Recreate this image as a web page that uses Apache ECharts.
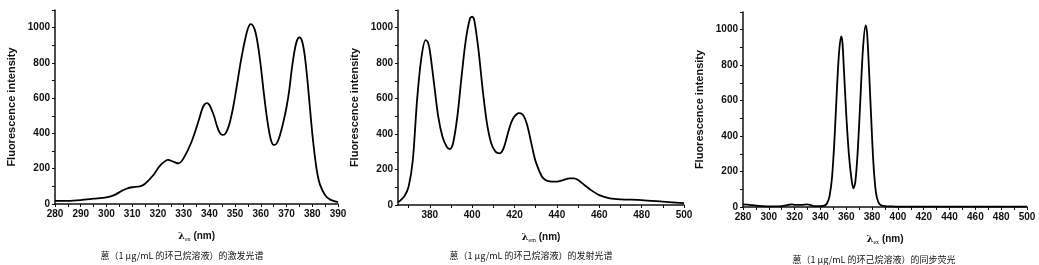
<!DOCTYPE html>
<html>
<head>
<meta charset="utf-8">
<script src="https://cdn.jsdelivr.net/npm/echarts@6/dist/echarts.min.js"></script>
<style>
html,body{margin:0;padding:0;background:#fff;}
#c{width:1039px;height:265px;}
</style>
</head>
<body>
<div id="c"></div>
<script>
// ---- Data ----
const exWave = [280,285,290,295,300,303,306,308,310,313,315,318,321,324,326,328,330,333,336,337,338,339,340,341,342,343,344,345,346,347,348,349,350,351,352,353,354,355,356,357,358,359,360,361,362,363,364,365,366,367,368,369,370,371,372,373,374,375,376,377,378,379,380,381,382,383,385,387,390];
const exInt  = [18,18,22,30,38,50,75,88,95,100,115,160,220,250,240,230,260,350,480,530,562,572,562,530,490,440,405,392,395,420,465,530,610,700,790,870,940,995,1020,1010,970,890,780,650,530,430,360,335,340,370,420,480,550,640,760,860,925,945,925,850,720,560,400,270,170,110,50,25,10];

const emWave = [365,368,370,372,374,376,378,379,380,382,384,386,388,389.5,391,393,395,397,399,400,401,403,405,407,409,411,413,414,415,416,417,418,419,420,421,422,423,424,425,426,427,428,429,430,433,436,440,443,446,448,450,453,456,460,465,470,480,490,500];
const emInt  = [15,50,103,254,592,827,930,921,874,686,498,385,329,316,348,498,724,930,1053,1062,1043,874,648,460,348,301,291,300,325,365,410,450,480,500,512,518,517,508,485,450,400,345,290,245,160,135,132,141,150,150,141,113,85,56,38,32,28,19,10];

const syWave = [280,285,290,295,300,305,310,315,318,320,325,330,332,335,340,343,345,347,349,351,353,354.5,356,357,358,360,362,364,365.5,367,369,371,373,375,376,377,379,381,383,385,387,390,395,400,410,450,500];
const syInt  = [15,12,8,5,3,3,5,12,15,12,12,15,12,5,5,8,20,60,170,400,700,880,962,930,800,520,300,160,105,140,330,620,900,1025,990,870,550,250,80,25,10,5,3,2,2,2,2];

const yTicks = [0,200,400,600,800,1000];
const exTicks = [280,290,300,310,320,330,340,350,360,370,380,390];
const emTicks = [380,400,420,440,460,480,500];
const syTicks = [280,300,320,340,360,380,400,420,440,460,480,500];

const captions = [
  '蒽（1 μg/mL 的环己烷溶液）的激发光谱',
  '蒽（1 μg/mL 的环己烷溶液）的发射光谱',
  '蒽（1 μg/mL 的环己烷溶液）的同步荧光'
];
const xNames = ['ex','em','ex'];
const yName = 'Fluorescence intensity';

function zip(a,b){return a.map((v,i)=>[v,b[i]]);}

const grids = [
  {left:55, top:10, width:283, height:194},
  {left:398, top:10, width:286, height:195},
  {left:743, top:12, width:284, height:195}
];
const xRanges = [[280,390],[365,500],[280,500]];
const xTickSets = [exTicks, emTicks, syTicks];
const xTickAll = [
  exTicks.concat([285,295,305,315,325,335,345,355,365,375,385]),
  [370,380,390,400,410,420,430,440,450,460,470,480,490,500],
  [280,290,300,310,320,330,340,350,360,370,380,390,400,410,420,430,440,450,460,470,480,490,500]
];
const series = [zip(exWave,exInt), zip(emWave,emInt), zip(syWave,syInt)];
const capCenters = [177,526,869];
const capTops = [246,246,250];

const labelFont = {fontFamily:'Liberation Sans', fontWeight:'bold', fontSize:10, color:'#111'};
const option = {
  backgroundColor:'#fff',
  animation:false,
  grid: grids,
  title: captions.map((t,i)=>({
    text:t, left:capCenters[i], top:capTops[i], textAlign:'center',
    textStyle:{fontFamily:'Noto Sans CJK SC', fontSize:9, fontWeight:'normal', color:'#111'}
  })),
  xAxis: grids.map((g,i)=>({
    type:'value', gridIndex:i, min:xRanges[i][0], max:xRanges[i][1],
    name:'{l|λ}{s|'+xNames[i]+'}{n| (nm)}', nameLocation:'middle', nameGap:27,
    nameTextStyle:{rich:{
      l:{fontFamily:'DejaVu Serif', fontWeight:'bold', fontSize:10, color:'#111'},
      s:{fontFamily:'Liberation Serif', fontSize:6, color:'#111', verticalAlign:'bottom', padding:[5,0,0,0]},
      n:{fontFamily:'Liberation Sans', fontWeight:'bold', fontSize:10, color:'#111'}
    }},
    splitLine:{show:false},
    axisLine:{show:true, onZero:false, lineStyle:{color:'#111', width:1.5}},
    axisTick:{show:true, length:3, customValues:xTickAll[i], lineStyle:{color:'#111', width:1}},
    axisLabel:Object.assign({margin:5, customValues:xTickSets[i], formatter:v=>String(v)}, labelFont)
  })),
  yAxis: grids.map((g,i)=>({
    type:'value', gridIndex:i, min:0, max:1100,
    name:yName, nameLocation:'middle', nameGap:38, nameRotate:90,
    nameTextStyle:{fontFamily:'Liberation Sans', fontWeight:'bold', fontSize:11, color:'#111'},
    splitLine:{show:false},
    axisLine:{show:true, onZero:false, lineStyle:{color:'#111', width:1.5}},
    axisTick:{show:true, length:3, customValues:[0,100,200,300,400,500,600,700,800,900,1000,1100], lineStyle:{color:'#111', width:1}},
    axisLabel:Object.assign({margin:5, customValues:yTicks, formatter:v=>String(v)}, labelFont)
  })),
  series: series.map((d,i)=>({
    type:'line', xAxisIndex:i, yAxisIndex:i, data:d, showSymbol:false, smooth:0.3,
    lineStyle:{color:'#000', width:1.8}
  }))
};
const chart = echarts.init(document.getElementById('c'), null, {renderer:'canvas'});
chart.setOption(option);
</script>
</body>
</html>
